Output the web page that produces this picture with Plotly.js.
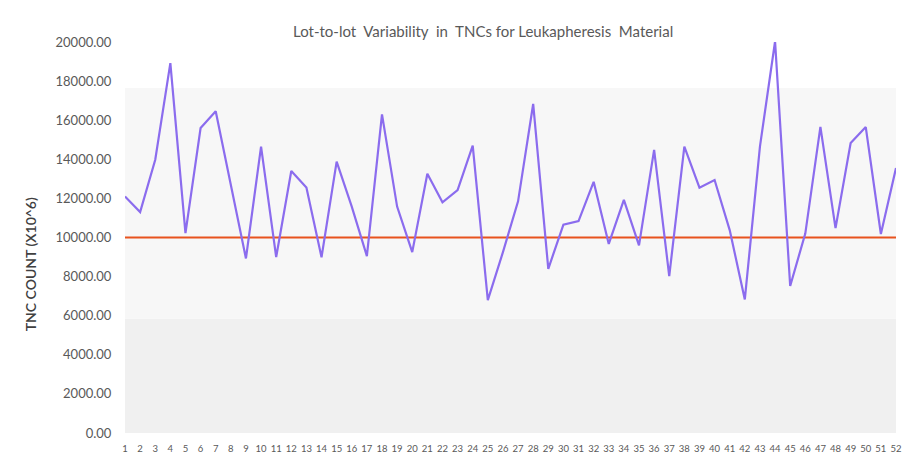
<!DOCTYPE html>
<html>
<head>
<meta charset="utf-8">
<script src="https://cdn.plot.ly/plotly-3.0.1.min.js"></script>
<style>html,body{margin:0;padding:0;background:#fff;}#chart{width:903px;height:455px;}</style>
</head>
<body>
<div id="chart"></div>
<script>
const lots = [1,2,3,4,5,6,7,8,9,10,11,12,13,14,15,16,17,18,19,20,21,22,23,24,25,26,27,28,29,30,31,32,33,34,35,36,37,38,39,40,41,42,43,44,45,46,47,48,49,50,51,52];
const tncCount = [12100,11300,13980,18920,10220,15600,16460,12700,8930,14650,9000,13400,12560,8990,13880,11580,9050,16300,11580,9250,13260,11800,12430,14700,6800,9250,11850,16830,8400,10660,10840,12850,9670,11920,9600,14480,8030,14650,12550,12940,10380,6830,14650,20030,7520,10200,15660,10480,14830,15650,10180,13550];
const threshold = [10000,10000];
const thresholdX = [1,52];
const yTicks = [0,2000,4000,6000,8000,10000,12000,14000,16000,18000,20000];

const font = "Lato, 'Open Sans', sans-serif";
const data = [
  {x: thresholdX, y: threshold, type:'scatter', mode:'lines', line:{color:'#E8531E', width:2}, hoverinfo:'skip', cliponaxis:false},
  {x: lots, y: tncCount, type:'scatter', mode:'lines', line:{color:'#8B6CEE', width:2.2}, cliponaxis:false}
];
const layout = {
  width:903, height:455,
  margin:{l:125, r:7, t:42, b:22},
  paper_bgcolor:'#ffffff', plot_bgcolor:'#ffffff',
  showlegend:false,
  title:{text:'Lot-to-lot  Variability  in  TNCs for Leukapheresis  Material', x:0.535, xanchor:'center', y:0.93, yanchor:'middle', font:{family:font, size:15, color:'#595959'}},
  xaxis:{range:[1,52], tickvals:lots, ticktext:lots.map(String), showgrid:false, zeroline:false, showline:false,
         ticks:'outside', ticklen:7, tickcolor:'rgba(0,0,0,0)', tickangle:0, tickfont:{family:font, size:9.5, color:'#595959'}},
  yaxis:{range:[0,20000], tickvals:yTicks, ticktext:yTicks.map(v=>v.toFixed(2)), showgrid:false, zeroline:false, showline:false,
         ticks:'outside', ticklen:10, tickcolor:'rgba(0,0,0,0)', tickfont:{family:font, size:13, color:'#595959'}},
  annotations:[
    {text:'TNC COUNT (X10^6)', xref:'paper', yref:'paper', x:-0.123, y:0.432, xanchor:'center', yanchor:'middle', textangle:-90, showarrow:false,
     font:{family:font, size:14, color:'#404040', weight:600}}
  ],
  shapes:[
    {type:'rect', xref:'paper', yref:'y', x0:0, x1:1, y0:0, y1:5850, fillcolor:'#f0f0f0', line:{width:0}, layer:'below'},
    {type:'rect', xref:'paper', yref:'y', x0:0, x1:1, y0:5850, y1:17650, fillcolor:'#f7f7f7', line:{width:0}, layer:'below'}
  ]
};
Plotly.newPlot('chart', data, layout, {displayModeBar:false, staticPlot:true});
</script>
</body>
</html>
